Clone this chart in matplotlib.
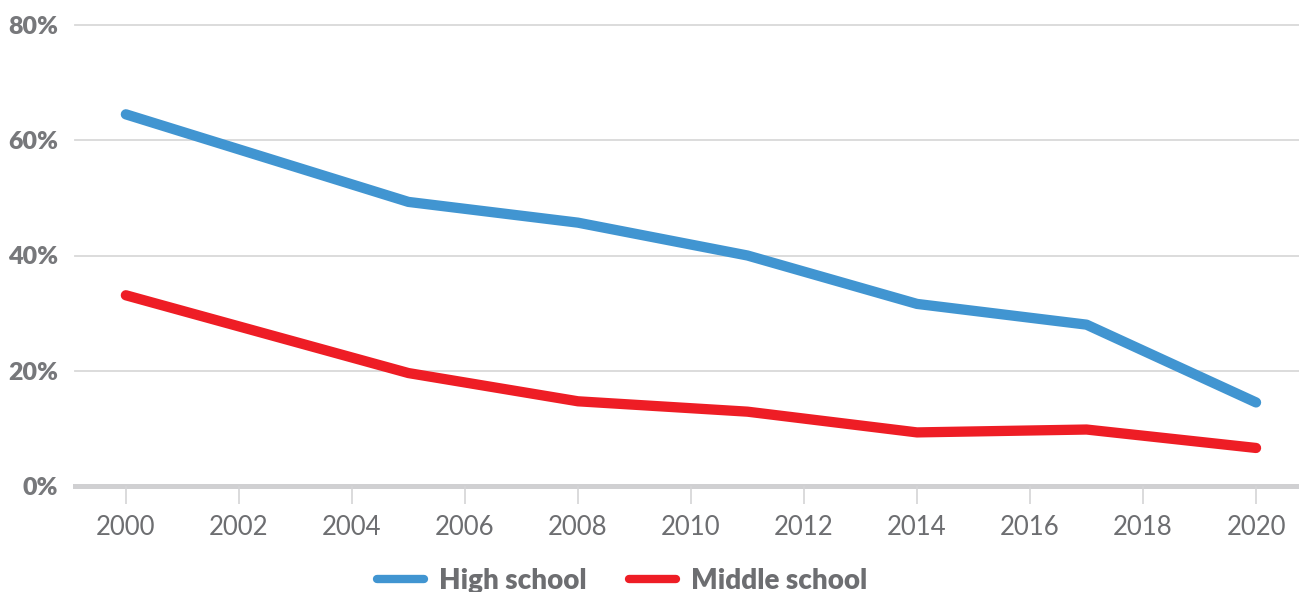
import matplotlib
matplotlib.use("Agg")
import matplotlib.pyplot as plt

years = [2000, 2005, 2008, 2011, 2014, 2017, 2020]
high_school = [64.5, 49.3, 45.7, 40.0, 31.6, 28.0, 14.5]
middle_school = [33.1, 19.6, 14.7, 12.9, 9.3, 9.8, 6.6]

year_ticks = list(range(2000, 2021, 2))
pct_ticks = [0, 20, 40, 60, 80]
pct_labels = [f"{v}%" for v in pct_ticks]

BLUE = "#4195d1"
RED = "#ee1d25"
GRID = "#d9d9d9"
TEXT = "#77787b"

W, H = 1299, 592
fig = plt.figure(figsize=(W / 100, H / 100), dpi=100)
ax = fig.add_axes([75 / W, (H - 486) / H, 1 - 75 / W, (486 - 25) / H])

ax.set_xlim(1999.1, 2020.76)
ax.set_ylim(0, 80)

for s in ax.spines.values():
    s.set_visible(False)

for v in pct_ticks[1:]:
    ax.axhline(v, color=GRID, lw=1.3, zorder=1, clip_on=False)
ax.axhline(0, color="#d0d0d2", lw=3.6, zorder=1, clip_on=False)

hs, = ax.plot(years, high_school, color=BLUE, lw=7.4, solid_capstyle="round",
              label="High school", zorder=3, clip_on=False)
ms, = ax.plot(years, middle_school, color=RED, lw=7.4, solid_capstyle="round",
              label="Middle school", zorder=3, clip_on=False)

ax.set_xticks(year_ticks)
ax.set_xticklabels([str(y) for y in year_ticks], fontfamily="Lato",
                   fontweight="normal", fontsize=18.5, color="#6d6e71")
ax.tick_params(axis="x", length=13, width=1.2, color="#d4d4d6", pad=8)

ax.set_yticks(pct_ticks)
ax.set_yticklabels(pct_labels, fontfamily="Lato", fontweight="heavy",
                   fontsize=18, color=TEXT)
ax.tick_params(axis="y", length=0, pad=12)

leg = fig.legend(handles=[hs, ms], loc="center", ncol=2, frameon=False,
                 bbox_to_anchor=(622 / W, (H - 581) / H),
                 handlelength=1.7, handletextpad=0.55, columnspacing=1.5,
                 prop={"family": "Lato", "weight": "heavy", "size": 20})
for t in leg.get_texts():
    t.set_color("#6d6e71")
for h in leg.legend_handles:
    h.set_linewidth(6)

fig.savefig("out.png", dpi=100)
